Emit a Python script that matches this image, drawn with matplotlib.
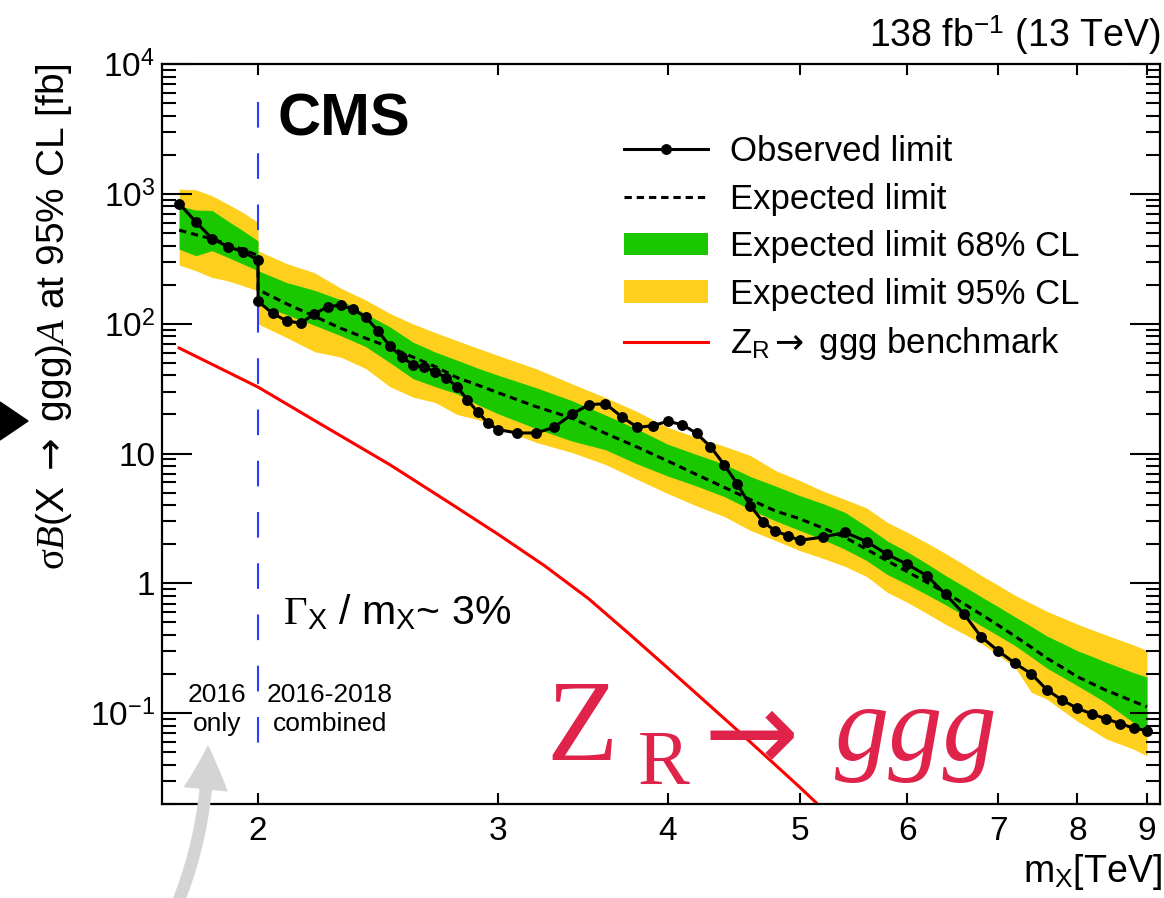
import matplotlib
matplotlib.use("Agg")
import matplotlib.pyplot as plt
from matplotlib.lines import Line2D
from matplotlib.patches import Patch, Polygon, FancyArrowPatch, ArrowStyle
from matplotlib.ticker import FixedLocator, FixedFormatter, NullLocator, LogLocator

plt.rcParams.update({
    "font.family": ["Liberation Sans", "DejaVu Sans"],
    "mathtext.fontset": "custom",
    "mathtext.rm": "Liberation Sans",
    "mathtext.it": "Liberation Serif:italic",
    "mathtext.sf": "Liberation Serif",
    "mathtext.bf": "Liberation Sans:bold",
    "mathtext.cal": "DejaVu Sans",
})

# ---------------- data ----------------
# 2016-only analysis (m_X < 2 TeV)
mass_2016 = [1.75, 1.80, 1.85, 1.90, 1.95, 2.00]
obs_2016 = [842, 609, 453, 393, 358, 309]
exp_2016 = [525, 485, 450, 410, 372, 335]
band68_lo_2016 = [375, 334, 365, 324, 288, 256]
band68_hi_2016 = [809, 750, 745, 619, 519, 434]
band95_lo_2016 = [283, 256, 227, 214, 196, 179]
band95_hi_2016 = [1087, 1075, 966, 834, 718, 602]

# 2016-2018 combined, observed limit
mass_obs = [2.00, 2.05, 2.10, 2.15, 2.20, 2.25, 2.30, 2.35, 2.40, 2.45,
            2.50, 2.55, 2.60, 2.65, 2.70, 2.75, 2.80, 2.85, 2.90, 2.95,
            3.0, 3.1, 3.2, 3.3, 3.4, 3.5, 3.6, 3.7, 3.8, 3.9,
            4.0, 4.1, 4.2, 4.3, 4.4, 4.5, 4.6, 4.7, 4.8, 4.9, 5.0,
            5.2, 5.4, 5.6, 5.8, 6.0, 6.2, 6.4, 6.6, 6.8, 7.0,
            7.2, 7.4, 7.6, 7.8, 8.0, 8.2, 8.4, 8.6, 8.8, 9.0]
obs_comb = [148.5, 120, 105, 101, 119, 135, 139, 129, 112, 88,
            67, 55.7, 48.1, 46.1, 42.7, 38.2, 32.7, 26.0, 20.8, 17.3,
            15.3, 14.4, 14.4, 15.9, 20.0, 23.8, 24.2, 19.2, 15.9, 16.4,
            17.7, 16.7, 14.3, 11.3, 8.23, 5.81, 3.96, 2.98, 2.53, 2.33, 2.15,
            2.27, 2.47, 2.10, 1.67, 1.40, 1.15, 0.823, 0.585, 0.386, 0.301,
            0.242, 0.201, 0.151, 0.126, 0.109, 0.0988, 0.0904, 0.0833, 0.0767, 0.0736]

# 2016-2018 combined, expected limit and bands
mass_exp = [2.0, 2.1, 2.2, 2.3, 2.4, 2.5, 2.6, 2.7, 2.8, 2.9, 3.0,
            3.2, 3.4, 3.6, 3.8, 4.0, 4.2, 4.4, 4.6, 4.8, 5.0,
            5.2, 5.4, 5.6, 5.8, 6.0, 6.2, 6.4, 6.6, 6.8, 7.0,
            7.2, 7.4, 7.6, 7.8, 8.0, 8.2, 8.4, 8.6, 8.8, 9.0]
exp_comb = [183, 142, 114, 92.3, 77.3, 65.7, 55.2, 46.7, 38.5, 33.7, 29.5,
            23.0, 18.8, 14.3, 11.2, 8.76, 6.89, 5.50, 4.42, 3.61, 3.15,
            2.67, 2.26, 1.83, 1.49, 1.23, 1.02, 0.848, 0.699, 0.576, 0.475,
            0.391, 0.322, 0.265, 0.225, 0.191, 0.169, 0.150, 0.136, 0.123, 0.112]
band68_lo = [142, 117, 97.3, 80.9, 66.5, 50.1, 37.7, 32.7, 28.9, 23.8, 20.3,
             15.6, 12.5, 10.7, 8.3, 6.71, 5.62, 4.67, 3.71, 3.03, 2.56,
             2.18, 1.83, 1.50, 1.17, 0.982, 0.820, 0.684, 0.568, 0.471, 0.395,
             0.331, 0.271, 0.222, 0.190, 0.163, 0.140, 0.120, 0.1006, 0.0844, 0.0698]
band68_hi = [256, 207, 181, 153, 119, 94.5, 72, 60.4, 52.4, 45.5, 40.2,
             32.2, 25.6, 19.8, 15.4, 11.8, 9.83, 8.3, 6.65, 5.62, 4.75,
             4.12, 3.52, 2.75, 2.12, 1.75, 1.42, 1.15, 0.952, 0.788, 0.660,
             0.552, 0.466, 0.393, 0.345, 0.303, 0.274, 0.247, 0.225, 0.205, 0.190]
band95_lo = [99.5, 78, 60.9, 55.3, 45.1, 32.7, 27.2, 24.7, 20.0, 18.3, 15.9,
             12.2, 10.2, 8.23, 6.31, 4.92, 3.95, 3.28, 2.56, 2.14, 1.79,
             1.56, 1.35, 1.13, 0.853, 0.714, 0.588, 0.484, 0.409, 0.345, 0.28,
             0.225, 0.145, 0.128, 0.105, 0.0868, 0.0742, 0.0634, 0.0579, 0.0528, 0.0470]
band95_hi = [364, 290, 247, 188, 152, 120, 99.5, 85.3, 74, 64.8, 57.0,
             45.1, 34.5, 27.0, 21.0, 15.9, 13.3, 11.4, 9.66, 7.40, 6.20,
             5.15, 4.43, 3.81, 2.95, 2.47, 2.05, 1.70, 1.40, 1.15, 0.965,
             0.809, 0.701, 0.608, 0.543, 0.485, 0.440, 0.400, 0.366, 0.335, 0.305]

# Z_R -> ggg benchmark cross section
mass_bench = [1.75, 2.0, 2.2, 2.5, 2.75, 3.0, 3.25, 3.5, 3.75, 4.0, 4.5, 5.0, 5.5, 6.0]
xsec_bench = [65, 32.5, 18.0, 8.2, 4.33, 2.40, 1.36, 0.76, 0.406, 0.223, 0.074, 0.027, 0.0105, 0.0043]

# axis ticks
x_ticks = [2, 3, 4, 5, 6, 7, 8, 9]
x_tick_labels = ["2", "3", "4", "5", "6", "7", "8", "9"]
y_ticks = [0.1, 1, 10, 100, 1000, 10000]
y_tick_labels = ["10$^{-1}$", "1", "10", "10$^{2}$", "10$^{3}$", "10$^{4}$"]

# ---------------- styling ----------------
W, H = 1164, 898
YELLOW = "#fecf1c"
GREEN = "#1ac800"
CRIMSON = "#e0234b"


def fx(px):
    return px / W


def fy(py):
    return 1 - py / H


fig = plt.figure(figsize=(W / 100, H / 100), dpi=100)
ax = fig.add_axes([fx(162), fy(804), (1160 - 162) / W, (804 - 64) / H])
ax.set_xscale("log")
ax.set_yscale("log")
ax.set_xlim(1.7, 9.2)
ax.set_ylim(0.02, 1e4)

# expected bands
ax.fill_between(mass_2016, band95_lo_2016, band95_hi_2016, color=YELLOW, lw=0, zorder=1)
ax.fill_between(mass_2016, band68_lo_2016, band68_hi_2016, color=GREEN, lw=0, zorder=1.1)
ax.fill_between(mass_exp, band95_lo, band95_hi, color=YELLOW, lw=0, zorder=1)
ax.fill_between(mass_exp, band68_lo, band68_hi, color=GREEN, lw=0, zorder=1.1)

# expected limit
ax.plot(mass_2016 + mass_exp, exp_2016 + exp_comb, color="black", lw=2.2,
        dashes=(2.4, 1.6), zorder=2)

# benchmark
ax.plot(mass_bench, xsec_bench, color="#ff0000", lw=2.2, zorder=2.1)

# boundary between 2016-only and combined
ax.plot([2.0, 2.0], [5100, 0.0385], color="#2b3cff", lw=1.5, dashes=(12.3, 12.3), zorder=2.2)

# observed limit
ax.plot(mass_2016 + mass_obs, obs_2016 + obs_comb, color="black", lw=2.2,
        marker="o", ms=6.8, zorder=3)

# axes styling
for sp in ax.spines.values():
    sp.set_linewidth(1.6)
ax.xaxis.set_major_locator(FixedLocator(x_ticks))
ax.xaxis.set_major_formatter(FixedFormatter(x_tick_labels))
ax.xaxis.set_minor_locator(NullLocator())
ax.yaxis.set_major_locator(FixedLocator(y_ticks))
ax.yaxis.set_major_formatter(FixedFormatter(y_tick_labels))
ax.yaxis.set_minor_locator(LogLocator(base=10, subs=range(2, 10), numticks=20))
ax.tick_params(which="both", direction="in", top=True, right=True, width=1.5,
               labelsize=24)
ax.tick_params(axis="y", which="major", length=21.5, pad=5)
ax.tick_params(axis="y", which="minor", length=10)
ax.tick_params(axis="x", which="major", length=8, pad=9)

# legend
handles = [
    Line2D([], [], color="black", lw=2.2, marker="o", ms=6.8),
    Line2D([], [], color="black", lw=2.2, dashes=(2.4, 1.6)),
    Patch(facecolor=GREEN, edgecolor="none"),
    Patch(facecolor=YELLOW, edgecolor="none"),
    Line2D([], [], color="#ff0000", lw=2.2),
]
labels = ["Observed limit", "Expected limit", "Expected limit 68% CL",
          "Expected limit 95% CL", "Z$_{\\mathrm{R}}$$\\mathcal{\\rightarrow}$ ggg benchmark"]
ax.legend(handles, labels, loc="upper left", bbox_to_anchor=(fx(624), fy(135)),
          bbox_transform=fig.transFigure, frameon=False, fontsize=25,
          handlelength=2.42, handleheight=0.63, handletextpad=0.63,
          labelspacing=0.42, borderpad=0, borderaxespad=0)

# text annotations
fig.text(fx(277), fy(135), "CMS", fontsize=43, fontweight="bold", va="baseline")
fig.text(fx(1160), fy(47), "138 fb$^{-1}$ (13 TeV)", fontsize=27, ha="right", va="baseline")
fig.text(fx(283), fy(624), "$\\mathsf{\\Gamma}_{\\mathrm{X}}$ / m$_{\\mathrm{X}}$~ 3%",
         fontsize=29.5, va="baseline")
fig.text(fx(217), fy(702), "2016", fontsize=19, ha="center", va="baseline")
fig.text(fx(217), fy(731), "only", fontsize=19, ha="center", va="baseline")
fig.text(fx(330), fy(702), "2016-2018", fontsize=19, ha="center", va="baseline")
fig.text(fx(330), fy(731), "combined", fontsize=19, ha="center", va="baseline")
fig.text(fx(1162), fy(882), "m$_{\\mathrm{X}}$[TeV]", fontsize=27, ha="right", va="baseline")
fig.text(fx(54), fy(63),
         "$\\mathsf{\\sigma}\\mathit{B}$(X $\\mathcal{\\rightarrow}$ ggg)$\\mathit{A}$ at 95% CL [fb]",
         fontsize=28, rotation=90, ha="center", va="top")

# large process label
fig.text(fx(546), fy(760), "Z", fontsize=84, family="Liberation Serif",
         color=CRIMSON, va="baseline")
fig.text(fx(638), fy(784), "R", fontsize=56, family="Liberation Serif",
         color=CRIMSON, va="baseline")
fig.text(fx(704), fy(770), "\u2192", fontsize=82, family="DejaVu Sans",
         color=CRIMSON, va="baseline")
fig.text(fx(835), fy(760), "ggg", fontsize=78, family="Liberation Serif",
         style="italic", color=CRIMSON, va="baseline")

# pointer marks
fig.add_artist(Polygon([[fx(0), fy(402)], [fx(0), fy(440)], [fx(28), fy(421)]],
                       closed=True, transform=fig.transFigure, color="black"))
fig.add_artist(FancyArrowPatch((fx(175), fy(910)), (fx(208), fy(745)),
                               transform=fig.transFigure,
                               arrowstyle=ArrowStyle.Simple(head_length=32, head_width=32,
                                                            tail_width=9),
                               mutation_scale=1, connectionstyle="arc3,rad=0.1",
                               shrinkA=0, shrinkB=0, color="#d4d4d4", lw=0))

fig.savefig("out.png", dpi=100)
